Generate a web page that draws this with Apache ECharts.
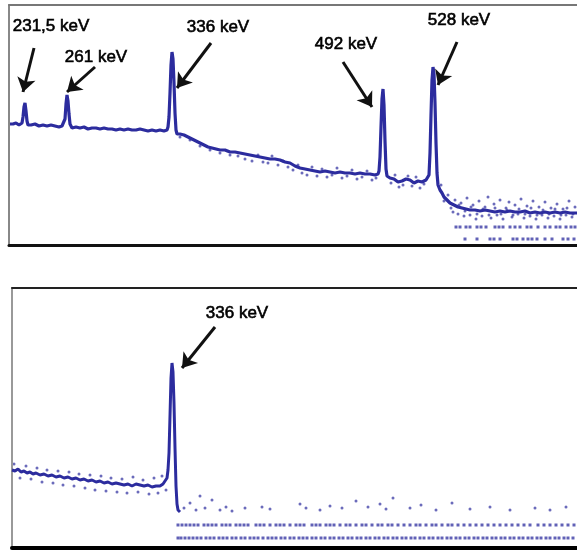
<!DOCTYPE html>
<html>
<head>
<meta charset="utf-8">
<script src="https://cdn.jsdelivr.net/npm/echarts@6/dist/echarts.min.js"></script>
<style>
  html, body { margin: 0; padding: 0; background: #fff; }
  #chart { width: 577px; height: 551px; }
</style>
</head>
<body>
<div id="chart"></div>
<script>
// channel vs counts (arbitrary units)
const topTrace = [
  [10,121],[13,121],[16,122],[19,120],[21,121],[22,122],[23,128],[24,138],[25,142],[26,134],[27,124],[28,120],
  [31,120],[35,121],[39,119],[43,120],[47,119],[51,120],[55,119],[59,118],[62,119],[64,119],[65,126],[66,141],
  [67,150],[68,144],[69,131],[70,121],[72,117],[76,118],[80,117],[84,118],[88,116],[92,117],[96,117],[100,116],
  [104,117],[108,116],[112,116],[116,115],[120,116],[124,115],[128,116],[132,115],[136,115],[140,116],[144,115],
  [148,114],[152,115],[156,114],[160,115],[164,114],[167,115],[168,118],[169,128],[170,152],[171,180],[172,193],
  [173,186],[174,162],[175,132],[176,115],[177,111],[180,111],[184,110],[188,108],[192,106],[196,104],[200,102],
  [204,100],[208,98],[212,97],[216,96],[220,95],[225,95],[230,93],[235,93],[240,92],[245,91],[250,90],[255,89],
  [260,88],[265,87],[270,86],[275,86],[280,85],[285,83],[290,82],[295,79],[300,77],[305,76],[310,75],[315,74],
  [320,73],[325,74],[330,73],[335,72],[340,73],[345,72],[350,72],[355,71],[360,72],[365,71],[370,71],[375,70],
  [378,71],[379,74],[380,88],[381,118],[382,146],[383,156],[384,140],[385,104],[386,76],[387,69],[390,67],
  [394,66],[398,63],[402,64],[406,66],[410,65],[414,62],[418,64],[422,63],[426,65],[428,67],[429,70],[430,92],
  [431,130],[432,165],[433,178],[434,171],[435,142],[436,102],[437,72],[438,60],[440,55],[442,52],[444,48],
  [447,45],[450,42],[454,40],[458,38],[462,37],[466,36],[470,35],[475,35],[480,34],[485,35],[490,34],[495,33],
  [500,34],[505,33],[510,34],[515,33],[520,33],[525,34],[530,32],[535,33],[540,32],[545,33],[550,32],[555,33],
  [560,32],[565,33],[570,32],[577,32]
];
const topNoise = [
  [180,108],[190,105],[200,99],[210,95],[220,92],[230,90],[238,89],
  [245,86],[252,84],[258,90],[263,83],[268,82],[272,89],[278,80],[283,84],[288,78],[293,75],[298,80],[302,72],
  [307,70],[312,78],[317,69],[322,76],[327,68],[332,70],[337,77],[342,67],[347,69],[352,75],[357,66],[362,68],
  [367,74],[372,65],[376,67],[391,62],[395,70],[399,58],[403,60],[408,69],[412,59],[416,68],[420,57],[424,61],
  [441,60],[444,44],[448,50],[451,37],[455,45],[458,31],[461,42],[464,29],[467,47],[470,30],[473,40],[476,26],
  [479,44],[482,29],[485,38],[488,48],[491,27],[494,41],[497,30],[500,45],[503,26],[506,37],[509,43],[512,28],
  [515,40],[518,31],[521,46],[524,27],[527,39],[530,29],[533,44],[536,26],[539,38],[542,30],[545,43],[548,27],
  [551,37],[554,29],[557,41],[560,26],[563,36],[566,30],[569,44],[572,28],[575,38],
  [453,33],[459,40],[465,34],[471,38],[477,31],[483,36],[489,30],[495,37],[501,31],[507,35],[513,30],[519,36],
  [525,31],[531,37],[537,30],[543,35],[549,31],[555,36],[561,30],[567,37],[573,31]
];
const topRowA = [456,460,466,470,477,481,486,495,499,503,510,515,520,527,531,538,545,550,556,560,566,571,575];
const topRowB = [465,477,490,494,500,513,517,523,528,532,537,545,552,563,568,574];
const topRowLevels = [18, 6];

const botTrace = [
  [12,78],[15,77],[18,79],[21,76],[24,77],[27,75],[30,76],[33,74],[36,75],[40,73],[44,74],[48,72],[52,73],
  [56,71],[60,72],[64,70],[68,71],[72,69],[76,70],[80,68],[84,69],[88,67],[92,68],[96,66],[100,67],[104,65],
  [108,66],[112,64],[116,65],[120,64],[124,63],[128,64],[132,62],[136,64],[140,63],[144,62],[148,63],[152,61],
  [156,62],[160,62],[163,64],[165,66],[167,70],[168,78],[169,95],[170,132],[171,170],[172,185],[173,176],
  [174,145],[175,100],[176,62],[177,44],[178,38],[180,36]
];
const botNoise = [
  [14,84],[20,70],[26,82],[31,69],[37,80],[42,66],[47,78],[53,65],[58,77],[63,63],[69,76],[74,62],[79,74],
  [85,60],[90,73],[95,58],[101,72],[106,57],[111,70],[117,56],[122,69],[127,55],[133,71],[138,56],[143,68],
  [149,54],[154,70],[158,55],[162,72],[166,58],
  [184,40],[190,45],[196,38],[200,52],[205,40],[212,48],[220,38],[226,41],[232,37],[245,40],[262,41],[270,39],
  [300,44],[306,40],[320,38],[330,42],[342,40],[356,47],[368,41],[380,44],[386,39],[393,50],[410,40],[421,43],
  [436,38],[452,45],[470,39],[490,41],[510,38],[535,40],[550,38],[566,41]
];
const botRowA = [178,182,186,190,194,198,204,208,212,216,222,226,230,236,240,244,248,256,260,264,270,276,280,
  284,290,296,300,304,312,316,320,326,330,334,340,346,350,356,362,366,372,378,382,388,392,398,404,410,416,420,
  426,432,436,442,448,452,458,464,470,476,482,488,494,500,506,512,518,524,530,538,544,550,556,562,568,574];
const botRowB = [178,181,185,189,193,197,201,206,210,214,219,223,227,232,236,241,245,250,254,258,263,268,272,
  276,281,285,290,294,299,303,307,312,316,321,325,330,334,339,343,348,352,357,361,366,370,375,379,384,388,393,
  397,402,406,411,415,420,424,429,433,438,442,447,451,456,460,465,469,474,478,483,487,492,496,501,505,510,514,
  519,523,528,532,537,541,546,550,555,559,564,568,573];
const botRowLevels = [23, 10];

const topLabels = ['231,5 keV', '261 keV', '336 keV', '492 keV', '528 keV'];
const botLabels = ['336 keV'];

// annotation placement (label centre, arrow tail, arrow head) in axis units
const topLabelAt = [[51,219],[96,188],[218,218],[346,201],[459,225]];
const topArrows = [[[34,197],[23,153]],[[95,178],[67,153]],[[211,202],[177,157]],[[343,183],[372,138]],[[457,203],[438,160]]];
const botLabelAt = [[237,235]];
const botArrows = [[[215,221],[182,180]]];

const ink = '#2c2c9e';
const fontFamily = '"Liberation Sans", Arial, sans-serif';

function rowPoints(xs, level) { return xs.map(x => [x, level]); }

function annotations(labels, at, arrows) {
  return {
    markLine: {
      silent: true,
      symbol: ['none', 'arrow'],
      symbolSize: 14,
      lineStyle: { color: '#111', width: 3, type: 'solid' },
      label: { show: false },
      data: arrows.map(a => [{ coord: a[0] }, { coord: a[1] }])
    },
    markPoint: {
      silent: true,
      symbol: 'circle',
      symbolSize: 0,
      label: {
        show: true, position: 'inside', formatter: '{b}',
        color: '#000', fontSize: 17, fontFamily: fontFamily,
        textBorderColor: '#000', textBorderWidth: 0.6
      },
      data: labels.map((t, i) => ({ name: t, coord: at[i] }))
    }
  };
}

function frameAxis(grid, pos, min, max, color, width) {
  return {
    gridIndex: grid, type: 'value', position: pos, min: min, max: max, z: 3,
    axisLine: { show: true, onZero: false, lineStyle: { color: color, width: width } },
    axisTick: { show: false }, axisLabel: { show: false }, splitLine: { show: false }
  };
}

const chart = echarts.init(document.getElementById('chart'));

const option = {
  animation: false,
  backgroundColor: '#fff',
  grid: [
    { left: 9, right: 0, top: 5, height: 240 },
    { left: 12, right: 0, top: 288, height: 260 }
  ],
  xAxis: [
    frameAxis(0, 'bottom', 9, 577, '#111', 3),
    frameAxis(0, 'top', 9, 577, '#777', 2),
    frameAxis(1, 'bottom', 12, 577, '#000', 4),
    frameAxis(1, 'top', 12, 577, '#222', 2)
  ],
  yAxis: [
    Object.assign(frameAxis(0, 'left', 0, 240, '#888', 2), { max: 240 }),
    Object.assign(frameAxis(1, 'left', 0, 260, '#999', 2), { max: 260 })
  ],
  series: [
    Object.assign({
      type: 'line', xAxisIndex: 0, yAxisIndex: 0, data: topTrace, showSymbol: false,
      lineStyle: { color: ink, width: 3.2 }, z: 3
    }, annotations(topLabels, topLabelAt, topArrows)),
    { type: 'scatter', xAxisIndex: 0, yAxisIndex: 0, data: topNoise, symbolSize: 3,
      itemStyle: { color: ink, opacity: 0.7 } },
    { type: 'scatter', xAxisIndex: 0, yAxisIndex: 0,
      data: rowPoints(topRowA, topRowLevels[0]).concat(rowPoints(topRowB, topRowLevels[1])),
      symbol: 'rect', symbolSize: [3, 3], itemStyle: { color: ink, opacity: 0.75 } },

    Object.assign({
      type: 'line', xAxisIndex: 2, yAxisIndex: 1, data: botTrace, showSymbol: false,
      lineStyle: { color: ink, width: 3 }, z: 3
    }, annotations(botLabels, botLabelAt, botArrows)),
    { type: 'scatter', xAxisIndex: 2, yAxisIndex: 1, data: botNoise, symbolSize: 3,
      itemStyle: { color: ink, opacity: 0.7 } },
    { type: 'scatter', xAxisIndex: 2, yAxisIndex: 1,
      data: rowPoints(botRowA, botRowLevels[0]).concat(rowPoints(botRowB, botRowLevels[1])),
      symbol: 'rect', symbolSize: [3, 3], itemStyle: { color: ink, opacity: 0.75 } }
  ]
};

chart.setOption(option);
</script>
</body>
</html>
